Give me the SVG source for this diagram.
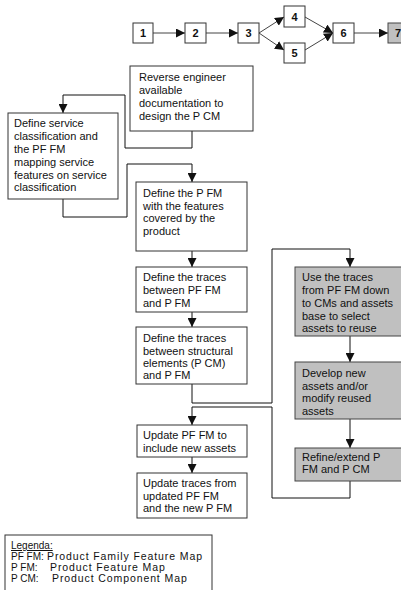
<svg xmlns="http://www.w3.org/2000/svg" width="401" height="590" viewBox="0 0 401 590">
<defs>
<marker id="ah" markerUnits="userSpaceOnUse" markerWidth="9" markerHeight="9" refX="9" refY="4.5" orient="auto">
<path d="M0,0 L9,4.5 L0,9 z" fill="#111"/>
</marker>
<style>
.box{fill:#fff;stroke:#333;stroke-width:1}
.gbox{fill:#c0c0c0;stroke:#444;stroke-width:1}
.t{font-family:"Liberation Sans",Arial,sans-serif;font-size:11px;fill:#111}
.d{font-family:"Liberation Sans",Arial,sans-serif;font-size:11px;font-weight:bold;fill:#111;text-anchor:middle}
.ll{font-family:"Liberation Sans",Arial,sans-serif;font-size:10px;fill:#111}
.lg{font-family:"Liberation Sans",Arial,sans-serif;font-size:10.5px;fill:#111;letter-spacing:0.9px}
.c{fill:none;stroke:#111;stroke-width:1;marker-end:url(#ah)}
.cs{fill:none;stroke:#444;stroke-width:1;marker-end:url(#ah)}
</style>
</defs>
<rect width="401" height="590" fill="#fff"/>
<g id="connectors">
<path class="cs" d="M153,33 H185"/>
<path class="cs" d="M206,33 H238"/>
<path class="cs" d="M259,33 L284,17"/>
<path class="cs" d="M259,33 L284,50"/>
<path class="cs" d="M305,17 L333,33"/>
<path class="cs" d="M305,50 L333,33"/>
<path class="cs" d="M354,33 H388"/>
<path class="c" d="M192,131 V148 H125 V95 H63 V113"/>
<path class="c" d="M63,199 V217 H127 V164 H192 V182"/>
<path class="c" d="M192,251 V267"/>
<path class="c" d="M192,312 V327"/>
<path class="c" d="M192,384 V403 H272 V249 H350 V267"/>
<path class="c" d="M350,336 V362"/>
<path class="c" d="M350,419 V448"/>
<path class="c" d="M350,481 V498 H272 V407 H192 V425"/>
<path class="c" d="M192,457 V473"/>
</g>
<g id="n1"><rect class="box" x="133" y="23" width="20" height="20"/><text class="d" x="143" y="37">1</text></g>
<g id="n2"><rect class="box" x="185" y="23" width="21" height="20"/><text class="d" x="195.5" y="37">2</text></g>
<g id="n3"><rect class="box" x="238" y="23" width="21" height="20"/><text class="d" x="248.5" y="37">3</text></g>
<g id="n4"><rect class="box" x="284" y="6" width="21" height="21"/><text class="d" x="294.5" y="21">4</text></g>
<g id="n5"><rect class="box" x="284" y="43" width="21" height="20"/><text class="d" x="294.5" y="57">5</text></g>
<g id="n6"><rect class="box" x="333" y="23" width="21" height="20"/><text class="d" x="343.5" y="37">6</text></g>
<g id="n7"><rect class="gbox" x="388" y="23" width="22" height="20"/><text class="d" x="398" y="37">7</text></g>
<g id="reverse">
<rect class="box" x="130" y="66" width="123" height="65"/>
<text class="t" x="139" y="81">Reverse engineer</text>
<text class="t" x="139" y="94">available</text>
<text class="t" x="139" y="107">documentation to</text>
<text class="t" x="139" y="120">design the P CM</text>
</g>
<g id="service">
<rect class="box" x="8" y="113" width="110" height="86"/>
<text class="t" x="14" y="127">Define service</text>
<text class="t" x="14" y="140">classification and</text>
<text class="t" x="14" y="153">the PF FM</text>
<text class="t" x="14" y="166">mapping service</text>
<text class="t" x="14" y="179">features on service</text>
<text class="t" x="14" y="191">classification</text>
</g>
<g id="pfm">
<rect class="box" x="136" y="182" width="111" height="69"/>
<text class="t" x="143" y="197">Define the P FM</text>
<text class="t" x="143" y="210">with the features</text>
<text class="t" x="143" y="222">covered by the</text>
<text class="t" x="143" y="235">product</text>
</g>
<g id="traces1">
<rect class="box" x="136" y="267" width="111" height="45"/>
<text class="t" x="143" y="281">Define the traces</text>
<text class="t" x="143" y="294">between PF FM</text>
<text class="t" x="143" y="307">and P FM</text>
</g>
<g id="traces2">
<rect class="box" x="136" y="327" width="111" height="57"/>
<text class="t" x="143" y="342">Define the traces</text>
<text class="t" x="143" y="355">between structural</text>
<text class="t" x="143" y="367">elements (P CM)</text>
<text class="t" x="143" y="379">and P FM</text>
</g>
<g id="use">
<rect class="gbox" x="295" y="267" width="110" height="69"/>
<text class="t" x="302" y="281">Use the traces</text>
<text class="t" x="302" y="294">from PF FM down</text>
<text class="t" x="302" y="307">to CMs and assets</text>
<text class="t" x="302" y="320">base to select</text>
<text class="t" x="302" y="332">assets to reuse</text>
</g>
<g id="develop">
<rect class="gbox" x="295" y="362" width="110" height="57"/>
<text class="t" x="302" y="377">Develop new</text>
<text class="t" x="302" y="390">assets and/or</text>
<text class="t" x="302" y="402">modify reused</text>
<text class="t" x="302" y="415">assets</text>
</g>
<g id="refine">
<rect class="gbox" x="295" y="448" width="110" height="33"/>
<text class="t" x="302" y="461">Refine/extend P</text>
<text class="t" x="302" y="473">FM and P CM</text>
</g>
<g id="update1">
<rect class="box" x="137" y="425" width="110" height="32"/>
<text class="t" x="143" y="439">Update PF FM to</text>
<text class="t" x="143" y="452">include new assets</text>
</g>
<g id="update2">
<rect class="box" x="137" y="473" width="110" height="45"/>
<text class="t" x="143" y="487">Update traces from</text>
<text class="t" x="143" y="500">updated PF FM</text>
<text class="t" x="143" y="512">and the new P FM</text>
</g>
<g id="legend">
<rect class="box" x="5" y="535" width="207" height="60"/>
<text class="ll" x="11" y="549" text-decoration="underline">Legenda:</text>
<text class="ll" x="11" y="560">PF FM:</text><text class="lg" x="47" y="560">Product Family Feature Map</text>
<text class="ll" x="11" y="571">P FM:</text><text class="lg" x="50" y="571">Product Feature Map</text>
<text class="ll" x="11" y="582">P CM:</text><text class="lg" x="52" y="582">Product Component Map</text>
</g>
</svg>
